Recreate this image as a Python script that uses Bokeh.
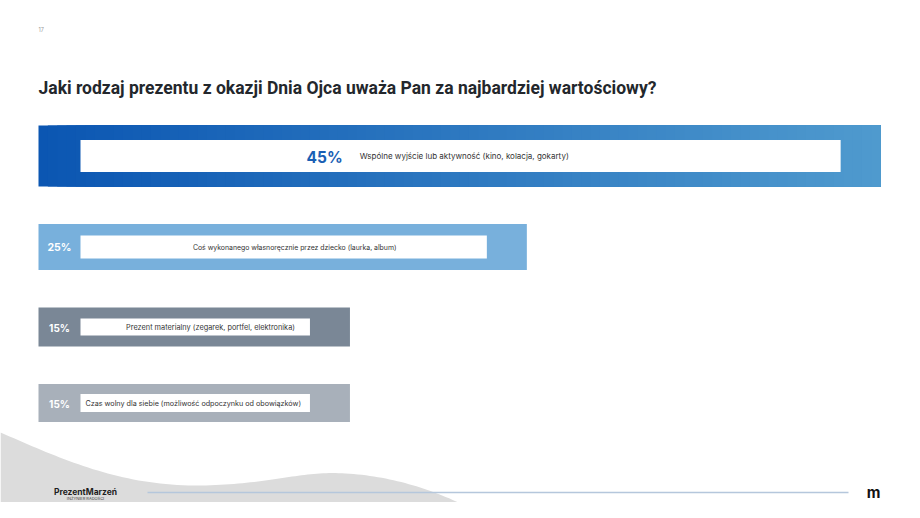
from bokeh.plotting import figure
from bokeh.models import Range1d
from bokeh.core.properties import value
from bokeh.embed import file_html
from bokeh.resources import INLINE

# ---------------- data ----------------
title = "Jaki rodzaj prezentu z okazji Dnia Ojca uważa Pan za najbardziej wartościowy?"
page_no = "17"
categories = [
    "Wspólne wyjście lub aktywność (kino, kolacja, gokarty)",
    "Coś wykonanego własnoręcznie przez dziecko (laurka, album)",
    "Prezent materialny (zegarek, portfel, elektronika)",
    "Czas wolny dla siebie (możliwość odpoczynku od obowiązków)",
]
values = [45, 25, 15, 15]
pct_labels = ["45%", "25%", "15%", "15%"]
brand = "PrezentMarzeń"
tagline = "INŻYNIER RADOŚCI"
logo_mark = "m"

# ---------------- layout / style ----------------
W, H = 904, 502
FONT = "Inter"
PX0 = 84.1          # screen x of value 0
K = 17.69           # px per percentage point
x_start = (0 - PX0) / K
x_end = (W - PX0) / K
base = (38 - PX0) / K          # left edge of the bars (label zone)
box_left = (80 - PX0) / K
box_right_inset = 40 / K

row_heights = [61, 46, 39, 38]
box_heights = [32, 23, 17, 18]
first_top = 125
gap = 37.5

bar_colors = [None, "#78b0dc", "#7a8796", "#a8b0ba"]
grad_left = (11, 86, 178)
grad_right = (79, 154, 206)
pct_sizes = ["15.5px", "10.5px", "10px", "10px"]
lab_sizes = ["8px", "6.9px", "7.35px", "7.2px"]

p = figure(width=W, height=H, output_backend="svg", toolbar_location=None,
           x_range=Range1d(x_start, x_end), y_range=Range1d(H, 0),
           x_axis_type=None, y_axis_type=None, min_border=0)
p.extra_x_ranges = {"px": Range1d(0, W)}
p.grid.visible = False
p.outline_line_color = None
p.background_fill_color = "white"
p.border_fill_color = "white"

# ---------------- decorative wave ----------------
def bez(p0, p1, p2, p3, n=40):
    pts = []
    for i in range(n + 1):
        t = i / n
        a = (1 - t) ** 3
        b = 3 * (1 - t) ** 2 * t
        c = 3 * (1 - t) * t ** 2
        d = t ** 3
        pts.append((a * p0[0] + b * p1[0] + c * p2[0] + d * p3[0],
                    a * p0[1] + b * p1[1] + c * p2[1] + d * p3[1]))
    return pts

seg1 = bez((0, 432), (60, 458), (120, 486), (200, 485))
seg2 = bez((200, 485), (270, 484), (300, 470), (345, 473))
seg3 = bez((345, 473), (400, 476), (450, 495), (492, 520))
wave = seg1 + seg2[1:] + seg3[1:] + [(492, 520), (0, 520)]
p.patch([q[0] for q in wave], [q[1] for q in wave], x_range_name="px",
        fill_color="#dcdcdc", line_color=None)

# ---------------- bars ----------------
tops, bottoms, mids = [], [], []
t = first_top
for h in row_heights:
    tops.append(t)
    bottoms.append(t + h)
    mids.append(t + h / 2)
    t += h + gap

# featured bar with gradient (layered slices, no seams)
n = 90
span = values[0] - base
lefts = [base + span * i / n for i in range(n)]
cols = []
for i in range(n):
    f = i / (n - 1)
    c = tuple(int(round(grad_left[j] + (grad_right[j] - grad_left[j]) * f)) for j in range(3))
    cols.append("#%02x%02x%02x" % c)
p.quad(left=lefts, right=[values[0]] * n, top=[tops[0]] * n, bottom=[bottoms[0]] * n,
       fill_color=cols, line_color=None)

# other bars
p.quad(left=[base] * 3, right=values[1:], top=tops[1:], bottom=bottoms[1:],
       fill_color=bar_colors[1:], line_color=None)

# white label boxes
bl = [box_left] * 4
br = [v - box_right_inset for v in values]
p.quad(left=bl, right=br,
       top=[m - bh / 2 for m, bh in zip(mids, box_heights)],
       bottom=[m + bh / 2 for m, bh in zip(mids, box_heights)],
       fill_color="white", line_color=None)

# featured row texts
anchor = bl[0] + 0.345 * (br[0] - bl[0])
p.text(x=[anchor], y=[mids[0] + 1], text=[pct_labels[0]], text_font=value(FONT),
       text_font_style="bold", text_font_size=pct_sizes[0], text_color="#1a5fb4",
       text_align="right", text_baseline="middle")
p.text(x=[anchor + 17 / K], y=[mids[0]], text=[categories[0]], text_font=value(FONT),
       text_font_size=lab_sizes[0], text_color="#333333",
       text_align="left", text_baseline="middle")

# other rows
label_pos = {1: ("center", 11), 2: ("right", -15), 3: ("left", 5)}
for i in range(1, 4):
    p.text(x=[(base + bl[i]) / 2], y=[mids[i] + 0.5], text=[pct_labels[i]],
           text_font=value(FONT), text_font_style="bold", text_font_size=pct_sizes[i],
           text_color="white", text_align="center", text_baseline="middle")
    al, off = label_pos[i]
    if al == "center":
        lx = (bl[i] + br[i]) / 2 + off / K
    elif al == "right":
        lx = br[i] + off / K
    else:
        lx = bl[i] + off / K
    p.text(x=[lx], y=[mids[i]], text=[categories[i]], text_font=value(FONT),
           text_font_size=lab_sizes[i], text_color="#333333",
           text_align=al, text_baseline="middle")

# ---------------- title, page number ----------------
p.text(x=[38], y=[87], text=[title], x_range_name="px", text_font=value("Roboto"),
       text_font_style="bold", text_font_size="17.5px", text_color="#23272c",
       text_align="left", text_baseline="alphabetic")
p.text(x=[38], y=[29], text=[page_no], x_range_name="px", text_font=value(FONT),
       text_font_size="5.5px", text_color="#9a9a9a",
       text_align="left", text_baseline="middle")

# ---------------- footer ----------------
p.line(x=[147, 848], y=[492, 492], x_range_name="px", line_color="#b5c7dc", line_width=1.3)
p.text(x=[85], y=[491], text=[brand], x_range_name="px", text_font=value(FONT),
       text_font_style="bold", text_font_size="8.5px", text_color="#1e1e1e",
       text_align="center", text_baseline="alphabetic")
p.text(x=[85], y=[497.5], text=[tagline], x_range_name="px", text_font=value(FONT),
       text_font_size="4px", text_color="#444444",
       text_align="center", text_baseline="middle")
p.text(x=[873], y=[492], text=[logo_mark], x_range_name="px", text_font=value(FONT),
       text_font_style="bold", text_font_size="15px", text_color="#111111",
       text_align="center", text_baseline="middle")

open("out.html", "w").write(file_html(p, INLINE))
